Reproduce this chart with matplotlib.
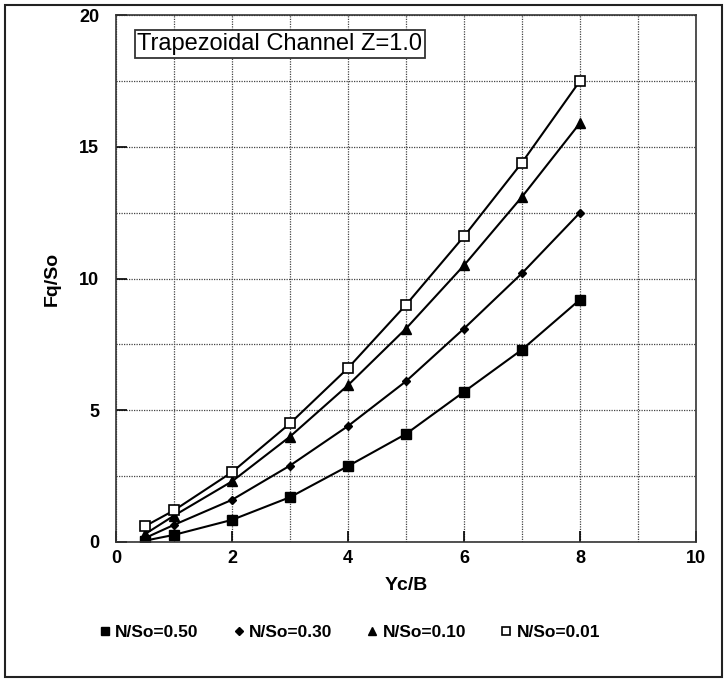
import matplotlib
matplotlib.use("Agg")
import matplotlib.pyplot as plt
from matplotlib.lines import Line2D
from matplotlib.patches import Rectangle
from matplotlib.ticker import MultipleLocator

plt.rcParams['font.family'] = ['Liberation Sans', 'DejaVu Sans']

yc_b = [0.5, 1, 2, 3, 4, 5, 6, 7, 8]
fq_050 = [0.05, 0.27, 0.84, 1.7, 2.88, 4.1, 5.7, 7.3, 9.2]
fq_030 = [0.15, 0.65, 1.6, 2.9, 4.4, 6.1, 8.1, 10.2, 12.5]
fq_010 = [0.3, 1.0, 2.3, 4.0, 5.95, 8.1, 10.5, 13.1, 15.9]
fq_001 = [0.6, 1.2, 2.65, 4.5, 6.6, 9.0, 11.6, 14.4, 17.5]
labels = ["N/So=0.50", "N/So=0.30", "N/So=0.10", "N/So=0.01"]
x_ticks = [0, 2, 4, 6, 8, 10]
y_ticks = [0, 5, 10, 15, 20]

W, H = 726, 681
fig = plt.figure(figsize=(W / 100, H / 100), dpi=100)
ax = fig.add_axes([116 / W, 1 - 542 / H, 580 / W, 527 / H])

styles = [
    dict(marker='s', ms=7, mfc='black', mec='black'),
    dict(marker='D', ms=4.5, mfc='black', mec='black'),
    dict(marker='^', ms=7.5, mfc='black', mec='black'),
    dict(marker='s', ms=7, mfc='white', mec='black', mew=1.2),
]
series = [fq_050, fq_030, fq_010, fq_001]
for ys, st in zip(series, styles):
    ax.plot(yc_b, ys, color='black', lw=1.5, **st)

ax.set_xlim(0, 10)
ax.set_ylim(0, 20)
ax.set_xticks(x_ticks)
ax.set_yticks(y_ticks)
ax.xaxis.set_minor_locator(MultipleLocator(1))
ax.yaxis.set_minor_locator(MultipleLocator(2.5))
ax.grid(True, which='both', linestyle=(0, (1, 1)), color='#444444', lw=0.9)
ax.set_axisbelow(True)
ax.tick_params(which='major', direction='in', length=8, width=1.2, labelsize=13)
ax.tick_params(which='minor', length=0)
ax.tick_params(axis='x', pad=6)
ax.tick_params(axis='y', pad=12)
for lab in ax.get_xticklabels() + ax.get_yticklabels():
    lab.set_fontweight('bold')
for sp in ax.spines.values():
    sp.set_linewidth(1.2)
    sp.set_color('#333333')

ax.set_xlabel("Yc/B", fontsize=14, fontweight='bold')
ax.set_ylabel("Fq/So", fontsize=14, fontweight='bold', va='center')
ax.xaxis.set_label_coords(0.5, -(577 - 542) / 527)
ax.xaxis.label.set_va('top')
ax.yaxis.set_label_coords(-(116 - 52) / 580, 0.5)

ax.text(0.037, 0.945, "Trapezoidal Channel Z=1.0", transform=ax.transAxes,
        fontsize=17, ha='left', va='center',
        bbox=dict(boxstyle='square,pad=0.12', fc='white', ec='#333333', lw=1.3))

handles = [Line2D([], [], color='black', linestyle='none', **dict(st, ms=st['ms'] * 0.85))
           for st in styles]
fig.legend(handles, labels, ncol=4, loc='center', bbox_to_anchor=(0.482, 1 - 632 / H),
           frameon=False, handlelength=0.6, handletextpad=0.3, columnspacing=2.0,
           prop=dict(size=12.5, weight='bold'))

fig.add_artist(Rectangle((5 / W, 1 - 677 / H), 717 / W, 672 / H, transform=fig.transFigure,
                         fill=False, ec='#222222', lw=1.5))

fig.savefig("out.png", dpi=100)
